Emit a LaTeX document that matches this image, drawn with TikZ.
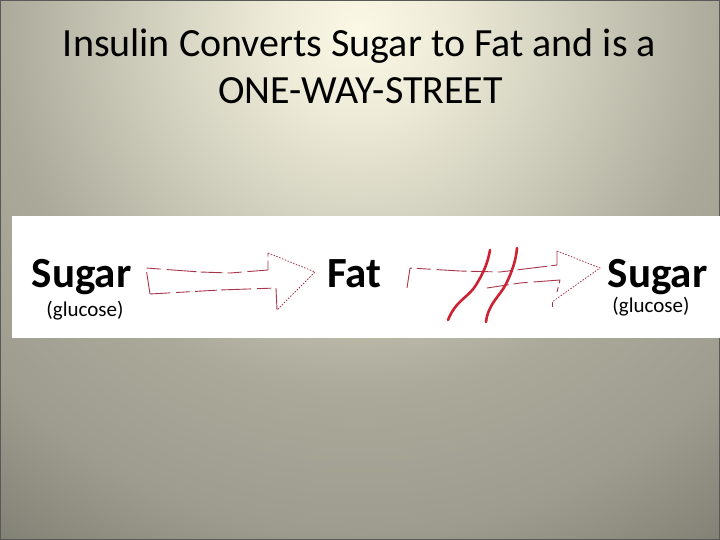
\documentclass[tikz,border=0pt]{standalone}
\usepackage{fontspec}
\setmainfont{Carlito}
\definecolor{bgA}{HTML}{FBF8E6}
\definecolor{bgB}{HTML}{EDEAD7}
\definecolor{bgC}{HTML}{CBC9B8}
\definecolor{bgD}{HTML}{ABA999}
\definecolor{bgE}{HTML}{9D9C8F}
\definecolor{bgF}{HTML}{7E7D71}
\definecolor{penred}{HTML}{A8354A}
\definecolor{slashred}{HTML}{CC2233}
\pgfdeclareradialshading{slidebg}{\pgfpoint{0bp}{0bp}}{%
  color(0bp)=(bgA); color(90bp)=(bgB); color(230bp)=(bgC); color(360bp)=(bgD);
  color(500bp)=(bgE); color(640bp)=(bgF); color(700bp)=(bgF)}
\tikzset{
  titletext/.style={font=\fontsize{40}{47}\selectfont, text=black, align=center, inner sep=0},
  bigword/.style={font=\bfseries\fontsize{43}{50}\selectfont, text=black, inner sep=0, anchor=base},
  smallword/.style={font=\fontsize{21}{25}\selectfont, text=black, inner sep=0, anchor=base},
  pen/.style={draw=penred, line width=0.9pt, dash pattern=on 22pt off 5pt on 14pt off 6pt on 30pt off 4pt, line join=round},
  dotpen/.style={draw=penred, line width=0.8pt, dash pattern=on 1.5pt off 1.5pt},
  slash/.style={draw=slashred, line width=2.6pt, line cap=round},
}
\begin{document}
\begin{tikzpicture}[x=1pt,y=-1pt]
\useasboundingbox (0,0) rectangle (720,540);
\begin{scope}
  \clip (0,0) rectangle (720,540);
  \node[inner sep=0] at (360,30) {\pgfuseshading{slidebg}};
\end{scope}
\draw[draw=black!65, line width=1.6pt] (0,0) rectangle (720,540);
% white band
\fill[white] (12,216) rectangle (720,338);
% title
\node[titletext, anchor=base] (t1) at (359.5,57) {Insulin Converts Sugar to Fat and is a};
\node[titletext, anchor=base] (t2) at (360.5,104) {ONE-WAY-STREET};
% words
\node[bigword] (sugarL) at (81.5,287) {Sugar};
\node[smallword] (glucL) at (85,316) {(glucose)};
\node[bigword] (fat) at (354.5,287) {Fat};
\node[bigword] (sugarR) at (657.5,287) {Sugar};
\node[smallword] (glucR) at (651,312) {(glucose)};
% first hand-drawn arrow
\draw[pen] (150,294) -- (146,268) -- (200,272) -- (230,273) -- (268,270) -- (268,253);
\draw[dotpen] (268,253) -- (315,272) -- (277,310);
\draw[pen] (277,310) -- (276,288) -- (220,290) -- (150,294);
% second hand-drawn arrow
\draw[pen] (407,288) -- (410,268) -- (460,271) -- (500,272) -- (557,265) -- (557,251);
\draw[dotpen] (557,251) -- (600,268) -- (552,302);
\draw[pen] (552,302) -- (552,307);
\draw[pen] (487,288) -- (520,283) -- (560,280) -- (557,292);
% red slashes
\draw[slash] (448,320) .. controls (456,300) and (468,298) .. (476,285) .. controls (484,272) and (488,262) .. (490,250);
\draw[slash] (486,322) .. controls (488,304) and (500,296) .. (506,284) .. controls (512,272) and (516,260) .. (517,248);
\end{tikzpicture}
\end{document}
